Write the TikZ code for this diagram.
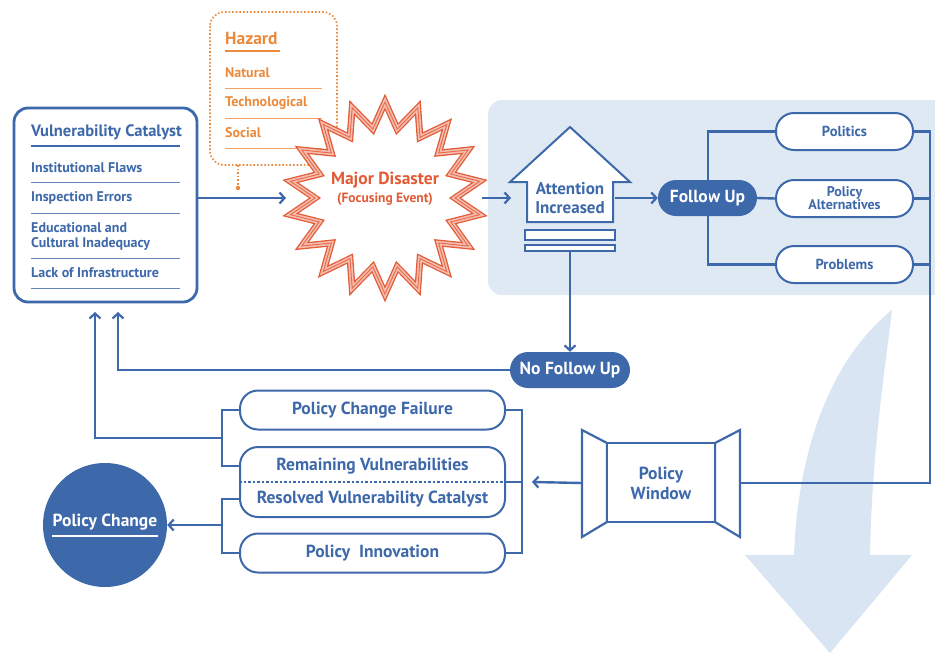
\documentclass[tikz,border=0pt]{standalone}
\usepackage{fontspec}
\setmainfont{PT Sans}
\usetikzlibrary{arrows.meta,calc}
\definecolor{cb}{HTML}{3D68AA}
\definecolor{cpanel}{HTML}{DFE9F4}
\definecolor{cbig}{HTML}{D9E5F2}
\definecolor{chaz}{HTML}{EC8A3C}
\definecolor{cdis}{HTML}{E35B36}
\newcommand{\fsz}[1]{\bfseries\fontsize{#1}{#1}\selectfont}
\tikzset{
  wire/.style={draw=cb, line width=2.4pt},
  arr/.style={wire, -{Straight Barb[length=5pt,width=11pt,line width=2.2pt]}},
  pill/.style={draw=cb, line width=2pt, fill=white, rounded corners=18pt,
    text=cb, font=\fsz{14.5}, align=center, inner sep=0pt},
  solidpill/.style={fill=cb, rounded corners=18pt, text=white,
    font=\fsz{17.5}, inner sep=0pt},
  item/.style={anchor=west, text=cb, font=\fsz{14}, align=left, inner sep=0pt},
  hitem/.style={anchor=west, text=chaz, font=\fsz{14}, inner sep=0pt},
  bigtext/.style={text=cb, font=\fsz{17.5}, inner sep=0pt},
  sep/.style={draw=cb!80, line width=1pt},
  hsep/.style={draw=chaz!80, line width=1pt},
  burst/.style={line join=miter, miter limit=20},
}
% eighteen-point burst around (385,198)
\newcommand{\burstpath}{($(385,198)+(90:96)$) \foreach \i in {1,...,35} {
    -- ($(385,198)+({90+\i*10}:{ifthenelse(mod(\i,2)==0,96,70)})$) } -- cycle}
\begin{document}
\begin{tikzpicture}[x=1pt,y=-1pt]
\useasboundingbox (0,0) rectangle (935,654);

% light panel behind the follow-up stage
\fill[cpanel, rounded corners=14pt] (488,100) rectangle (960,295);

% large sweeping arrow in the lower right
\fill[cbig] (892,310) .. controls (885,370) and (872,450) .. (870,555)
  -- (912,555) -- (830,653) -- (745,555) -- (794,555)
  .. controls (798,450) and (830,360) .. (892,310) -- cycle;

% vulnerability catalyst box
\draw[cb, line width=2.8pt, fill=white, rounded corners=14pt] (14,108) rectangle (197,302);
\coordinate (vcout) at (197,198);
\node[item, font=\fsz{16.5}] (vctitle) at (31,132) {Vulnerability Catalyst};
\draw[cb, line width=2.4pt] (31,146) -- (180,146);
\node[item] (vc1) at (31,168) {Institutional Flaws};
\draw[sep] (31,182) -- (180,182);
\node[item] (vc2) at (31,198) {Inspection Errors};
\draw[sep] (31,213) -- (180,213);
\node[item, font=\bfseries\fontsize{14}{15}\selectfont] (vc3) at (31,236) {Educational and\\Cultural Inadequacy};
\draw[sep] (31,258) -- (180,258);
\node[item] (vc4) at (31,273) {Lack of Infrastructure};
\draw[sep] (31,288) -- (180,288);
\coordinate (vcin1) at (95,312);
\coordinate (vcin2) at (118,312);

% hazard box
\draw[chaz, line width=1.6pt, dotted, fill=white, rounded corners=14pt] (210,12) rectangle (337,165);
\node[hitem, font=\fsz{17.5}] (hz) at (225,38) {Hazard};
\draw[chaz, line width=2.4pt] (225,51) -- (280,51);
\node[hitem] (hz1) at (225,73) {Natural};
\draw[hsep] (225,88) -- (322,88);
\node[hitem] (hz2) at (225,103) {Technological};
\draw[hsep] (225,118) -- (322,118);
\node[hitem] (hz3) at (225,133) {Social};
\draw[hsep] (225,148) -- (322,148);
\coordinate (hzfoot) at (238,165);
\coordinate (hzdot) at (238,188);
\draw[chaz, line width=1.6pt, dotted] (hzfoot) -- (hzdot);
\fill[chaz] (hzdot) circle (2.2pt);

% major disaster starburst
\fill[white] \burstpath;
\draw[cdis, burst, line width=1.3pt, double=cdis!40, double distance=4.2pt] \burstpath;
\draw[cdis!90, burst, line width=0.9pt] \burstpath;
\coordinate (mdin) at (286,198);
\coordinate (mdout) at (482,198);
\node[text=cdis, font=\fsz{17.5}] (mdt) at (385,180) {Major Disaster};
\node[text=cdis, font=\fsz{13.5}] (mdb) at (385,199) {(Focusing Event)};

% attention increased arrow
\draw[cb, line width=2pt, fill=white, line join=miter]
  (570,127) -- (630,182) -- (613,182) -- (613,222) -- (527,222) -- (527,182) -- (510,182) -- cycle;
\node (att) at (570,198) [text=cb, font=\bfseries\fontsize{17}{19}\selectfont, align=center, inner sep=0pt]
  {Attention\\Increased};
\coordinate (attin) at (511,198);
\coordinate (attout) at (615,198);
\draw[cb, line width=1.6pt, fill=white] (525,230) rectangle (615,240);
\draw[cb, line width=1.6pt, fill=white] (525,245) rectangle (615,251);
\coordinate (attbase) at (570,251);

% follow up and its three streams
\node[solidpill, minimum width=99pt, minimum height=36pt] (fu) at (707.5,198) {Follow Up};
\node[pill, minimum width=137pt, minimum height=37pt] (pol) at (844.5,131.5) {Politics};
\node[pill, minimum width=137pt, minimum height=37pt, font=\bfseries\fontsize{14}{13}\selectfont] (alt) at (844.5,198.5) {Policy\\Alternatives};
\node[pill, minimum width=137pt, minimum height=37pt] (prb) at (844.5,264.5) {Problems};
\coordinate (fubar) at (708,264.5);
\coordinate (rtop) at (930,131.5);
\coordinate (rmid) at (930,198.5);
\coordinate (rbot) at (930,264.5);

% no follow up
\node[solidpill, minimum width=120pt, minimum height=36pt] (nfu) at (570,370) {No Follow Up};

% policy window
\draw[cb, line width=2.2pt, fill=white, line join=miter]
  (582,430) -- (607,443) -- (607,522) -- (582,537) -- cycle;
\draw[cb, line width=2.2pt, fill=white, line join=miter]
  (740,430) -- (715,443) -- (715,522) -- (740,537) -- cycle;
\draw[cb, line width=2.2pt, fill=white] (607,443) rectangle (715,522);
\coordinate (pwl) at (582,483);
\coordinate (pwr) at (740,483);
\node[text=cb, font=\bfseries\fontsize{17.5}{20}\selectfont, align=center] (pw) at (661,483) {Policy\\Window};

% outcome pills
\node[pill, minimum width=265pt, minimum height=39pt, font=\fsz{17.5}] (pcf) at (372.5,410) {Policy Change Failure};
\node[pill, minimum width=265pt, minimum height=70pt] (rv) at (372.5,482) {};
\draw[cb, line width=1.2pt, dash pattern=on 2.5pt off 2pt] (rv.west) -- (rv.east);
\node[bigtext] (rvt) at (372.5,466) {Remaining Vulnerabilities};
\node[bigtext] (rvb) at (372.5,499) {Resolved Vulnerability Catalyst};
\node[pill, minimum width=265pt, minimum height=39pt, font=\fsz{17.5}] (pin) at (372.5,553) {Policy\ \ Innovation};
\coordinate (lbar) at (222,438);
\coordinate (lbar2) at (222,525);
\coordinate (rbar) at (522,482);
\coordinate (rvin) at (532,482);

% policy change
\node (pc) at (105,525) [circle, fill=cb, minimum size=124pt, inner sep=0pt] {};
\node (pct) at (105,522) [text=white, font=\fsz{17.5}, inner sep=0pt] {Policy Change};
\draw[white, line width=2pt] (52,536) -- (158,536);

% connectors
\draw[arr] (vcout) -- (mdin);
\draw[arr] (mdout) -- (attin);
\draw[arr] (attout) -- (fu.west);
\draw[wire] (fu.east) -- (alt.west);
\draw[wire] (pol.west) -| (fubar) -- (prb.west);
\draw[wire] (pol.east) -- (rtop) |- (pwr);
\draw[wire] (alt.east) -- (rmid);
\draw[wire] (prb.east) -- (rbot);
\draw[arr] (attbase) -- (nfu.north);
\draw[arr] (nfu.west) -| (vcin2);
\draw[wire] (pcf.west) -| (lbar) |- (rvt.west -| rv.west);
\draw[arr] (lbar) -| (vcin1);
\draw[wire] (pcf.east) -| (rbar) |- (pin.east);
\draw[wire] (rv.east) -- (rbar);
\draw[arr] (pwl) -- (rvin);
\draw[wire] (rvb.west -| rv.west) -| (lbar2) |- (pin.west);
\draw[arr] (lbar2) -- (pc.east);
\end{tikzpicture}
\end{document}
